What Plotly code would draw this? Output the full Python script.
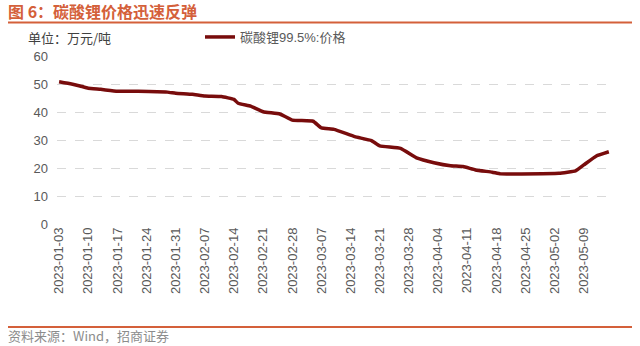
import plotly.graph_objects as go

dates = ["2023-01-03", "2023-01-06", "2023-01-08", "2023-01-10", "2023-01-13", "2023-01-17",
         "2023-01-22", "2023-01-29", "2023-01-31", "2023-02-04", "2023-02-07", "2023-02-11",
         "2023-02-14", "2023-02-15", "2023-02-18", "2023-02-21", "2023-02-25", "2023-02-28",
         "2023-03-05", "2023-03-07", "2023-03-10", "2023-03-15", "2023-03-19", "2023-03-21",
         "2023-03-26", "2023-03-30", "2023-04-03", "2023-04-07", "2023-04-10", "2023-04-13",
         "2023-04-17", "2023-04-19", "2023-04-24", "2023-05-03", "2023-05-07", "2023-05-09",
         "2023-05-12", "2023-05-15"]
prices = [50.8, 50.0, 49.3, 48.5, 48.1, 47.4,
          47.4, 47.1, 46.7, 46.3, 45.7, 45.5,
          44.5, 43.1, 42.1, 40.1, 39.3, 37.1,
          36.7, 34.3, 33.8, 31.2, 29.8, 27.9,
          27.0, 23.5, 21.9, 20.8, 20.5, 19.3,
          18.5, 17.9, 17.9, 18.1, 19.0, 21.1,
          24.3, 25.8]
tick_dates = ["2023-01-03", "2023-01-10", "2023-01-17", "2023-01-24", "2023-01-31", "2023-02-07",
              "2023-02-14", "2023-02-21", "2023-02-28", "2023-03-07", "2023-03-14", "2023-03-21",
              "2023-03-28", "2023-04-04", "2023-04-11", "2023-04-18", "2023-04-25", "2023-05-02",
              "2023-05-09"]
y_ticks = [0, 10, 20, 30, 40, 50, 60]

title_text = "<b>图 6：碳酸锂价格迅速反弹</b>"
unit_text = "单位：万元/吨"
series_name = "碳酸锂99.5%:价格"
source_text = "资料来源：Wind，招商证券"

FONT = "Liberation Sans, Arial, Noto Sans CJK SC, sans-serif"
CJK = "Noto Sans CJK SC, sans-serif"
ORANGE = "#d4603a"
GRAY = "#595959"

W, H = 640, 346
ML, MR, MT, MB = 57, 27, 56, 122
PW, PH = W - ML - MR, H - MT - MB


def px(xp):
    return (xp - ML) / PW


def py(yp):
    return (H - MB - yp) / PH


fig = go.Figure()
fig.add_trace(go.Scatter(x=dates, y=prices, mode="lines", name=series_name,
                         line=dict(color="#780c0c", width=3.5, shape="spline", smoothing=0.3)))

fig.update_layout(
    width=W, height=H,
    margin=dict(l=ML, r=MR, t=MT, b=MB),
    paper_bgcolor="white", plot_bgcolor="white",
    showlegend=True,
    legend=dict(x=px(200), y=py(37), xanchor="left", yanchor="middle", orientation="h",
                font=dict(family=FONT, size=13, color=GRAY), bgcolor="rgba(0,0,0,0)"),
    xaxis=dict(type="date", range=["2023-01-02 12:00", "2023-05-16"],
               tickvals=tick_dates, tickformat="%Y-%m-%d", tickangle=-90,
               tickfont=dict(family=FONT, size=13, color=GRAY),
               showgrid=False, showline=False, zeroline=False, ticks=""),
    yaxis=dict(range=[0, 60], tickvals=y_ticks,
               tickfont=dict(family=FONT, size=13, color=GRAY),
               showgrid=True, gridcolor="#d9d9d9", griddash="dash", gridwidth=1,
               zeroline=False, showline=False, ticks="", ticklabelstandoff=8),
)

fig.add_annotation(text=title_text, xref="paper", yref="paper", x=px(6), y=py(11),
                   xanchor="left", yanchor="middle", showarrow=False,
                   font=dict(family=CJK, size=16, color=ORANGE))
fig.add_annotation(text=unit_text, xref="paper", yref="paper", x=px(26), y=py(38),
                   xanchor="left", yanchor="middle", showarrow=False,
                   font=dict(family=CJK, size=13, color="#404040"))
fig.add_annotation(text=source_text, xref="paper", yref="paper", x=px(6), y=py(335),
                   xanchor="left", yanchor="middle", showarrow=False,
                   font=dict(family=CJK, size=13, color="#8c8c8c"))

fig.add_shape(type="line", xref="paper", yref="paper", x0=px(8), x1=px(632),
              y0=py(22.5), y1=py(22.5), line=dict(color=ORANGE, width=2))
fig.add_shape(type="line", xref="paper", yref="paper", x0=px(8), x1=px(632),
              y0=py(327), y1=py(327), line=dict(color=ORANGE, width=2))

fig.write_html("out.html")
